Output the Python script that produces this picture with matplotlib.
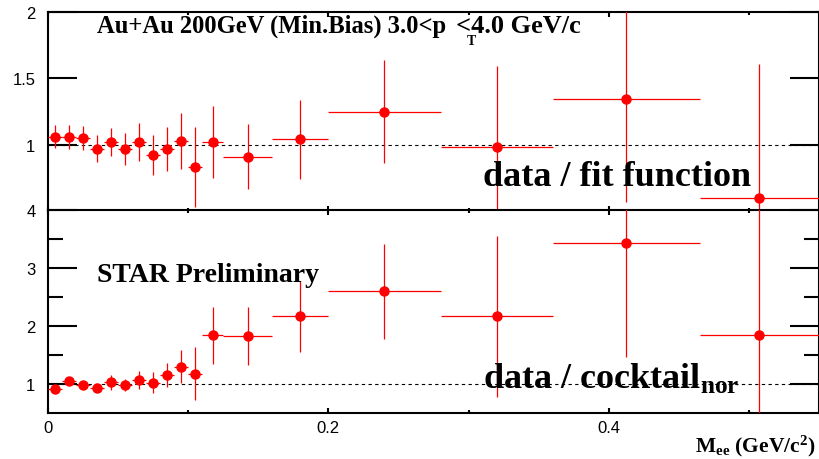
import matplotlib
matplotlib.use('Agg')
import matplotlib.pyplot as plt
from matplotlib.ticker import FixedLocator, NullFormatter

# mass bins (GeV/c^2): centres and half widths
m_ee = [0.005, 0.015, 0.025, 0.035, 0.045, 0.055, 0.065, 0.075, 0.085, 0.095, 0.105,
        0.1175, 0.1425, 0.18, 0.24, 0.32, 0.4125, 0.5075]
m_hw = [0.005] * 11 + [0.0075, 0.0175, 0.02, 0.04, 0.04, 0.0525, 0.0425]

# data / fit function
fit_ratio = [1.06, 1.06, 1.05, 0.97, 1.02, 0.97, 1.02, 0.92, 0.97, 1.03, 0.83,
             1.02, 0.91, 1.04, 1.25, 0.985, 1.345, 0.60]
fit_err = [0.088, 0.09, 0.09, 0.10, 0.105, 0.12, 0.14, 0.15, 0.165, 0.21, 0.30,
           0.27, 0.245, 0.30, 0.39, 0.61, 0.78, 1.01]

# data / cocktail (normalised)
coc_ratio = [0.92, 1.05, 0.98, 0.93, 1.03, 0.98, 1.07, 1.02, 1.16, 1.30, 1.18,
             1.84, 1.82, 2.17, 2.60, 2.17, 3.43, 1.84]
coc_err = [0.05, 0.07, 0.05, 0.05, 0.125, 0.10, 0.15, 0.18, 0.21, 0.28, 0.45,
           0.49, 0.50, 0.61, 0.82, 1.39, 1.97, 2.3]

plt.rcParams['font.family'] = ['Liberation Sans', 'DejaVu Sans']
plt.rcParams['mathtext.fontset'] = 'custom'
plt.rcParams['mathtext.rm'] = 'Liberation Serif:bold'
plt.rcParams['mathtext.it'] = 'Liberation Serif:bold'
plt.rcParams['mathtext.bf'] = 'Liberation Serif:bold'

W, H = 820, 460
fig = plt.figure(figsize=(W / 100, H / 100), dpi=100)

def px(x0, y0, x1, y1):
    # pixel box -> figure fraction rect
    return [x0 / W, 1 - y1 / H, (x1 - x0) / W, (y1 - y0) / H]

ax1 = fig.add_axes(px(48, 13, 819, 212))
ax2 = fig.add_axes(px(48, 211, 819, 414))

def style(ax, ymaj, ymin, ylabels):
    ax.set_xlim(0, 0.55)
    for s in ax.spines.values():
        s.set_linewidth(1.5)
    ax.xaxis.set_major_locator(FixedLocator([0, 0.2, 0.4]))
    ax.xaxis.set_minor_locator(FixedLocator([0.1, 0.3, 0.5]))
    ax.yaxis.set_major_locator(FixedLocator(ymaj))
    ax.yaxis.set_minor_locator(FixedLocator(ymin))
    ax.set_yticklabels(ylabels)
    ax.tick_params(axis='both', which='both', direction='in', top=True, right=True,
                   width=1.5, labelsize=12)
    ax.tick_params(axis='x', which='major', length=3.5, pad=5)
    ax.tick_params(axis='x', which='minor', length=2)
    ax.tick_params(axis='y', which='major', length=21, pad=9)
    ax.tick_params(axis='y', which='minor', length=11)
    ax.axhline(1.0, color='black', lw=0.8, ls=(0, (3, 3)), zorder=1)

def points(ax, y, err):
    ax.errorbar(m_ee, y, yerr=err, xerr=m_hw, fmt='o', color='red', ms=6.5,
                elinewidth=0.9, capsize=0, zorder=3)

points(ax1, fit_ratio, fit_err)
ax1.set_ylim(0.5, 2.0)
style(ax1, [1, 1.5, 2], [], ['1', '1.5', '2'])
ax1.xaxis.set_major_formatter(NullFormatter())

points(ax2, coc_ratio, coc_err)
ax2.set_ylim(0.5, 4.0)
style(ax2, [1, 2, 3, 4], [1.5, 2.5, 3.5], ['1', '2', '3', '4'])
ax2.set_xticklabels(['0', '0.2', '0.4'])

serif = dict(family='Liberation Serif', weight='bold', va='baseline')

def label(x, y, s, size):
    fig.text(x / W, 1 - y / H, s, fontsize=size, **serif)

label(97, 33, 'Au+Au 200GeV (Min.Bias) 3.0<p', 17.7)
label(467, 45, 'T', 10)
label(456, 33, '<4.0 GeV/c', 19)
label(483, 186, 'data / fit function', 26)
label(97, 282, 'STAR Preliminary', 20)
label(483, 389, r'data / cocktail$_{\mathrm{nor}}$', 26)
label(695, 452, r'M$_{\mathrm{ee}}$ (GeV/c$^{\mathrm{2}}$)', 15.5)

fig.savefig('out.png', dpi=100)
